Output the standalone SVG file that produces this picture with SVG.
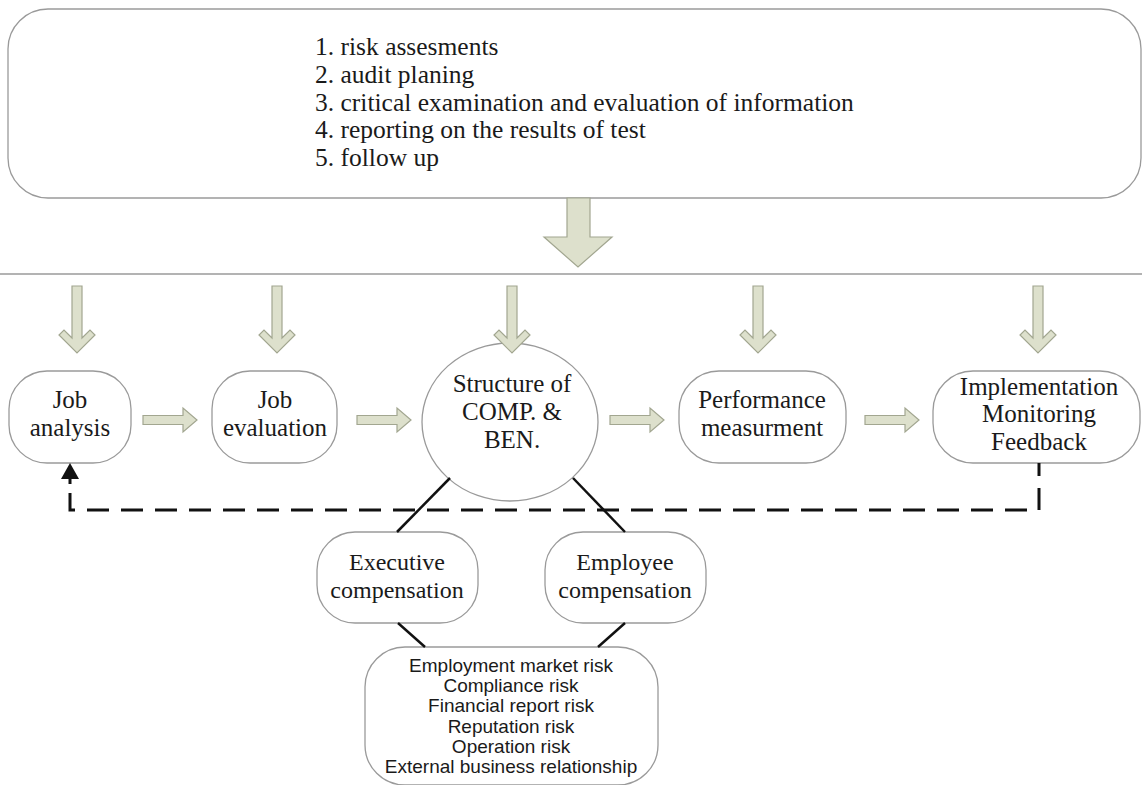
<svg xmlns="http://www.w3.org/2000/svg" width="1142" height="785" viewBox="0 0 1142 785">
<defs>
<style>
.box{fill:#fff;stroke:#9a9a9a;stroke-width:1.3}
.ga{fill:#dde0cc;stroke:#a2a690;stroke-width:1.2}
.t{font-family:"Liberation Serif","Times New Roman",serif;font-size:25px;fill:#1a1a1a;text-anchor:middle}
.tc{font-size:24px}
.tl{font-family:"Liberation Serif","Times New Roman",serif;font-size:25.5px;fill:#1a1a1a}
.s{font-family:"Liberation Sans",Arial,sans-serif;font-size:19px;fill:#1a1a1a;text-anchor:middle}
.ln{stroke:#111;stroke-width:2.5;fill:none}
.dash{stroke:#111;stroke-width:3;fill:none;stroke-dasharray:22 12}
</style>
<path id="dn" d="M-5,0 H5 V52 L13,44 L18,49 L0,67 L-18,49 L-13,44 L-5,52 z"/>
<path id="rt" d="M0,-4.5 H40 V-12 L54,0 L40,12 V4.5 H0 z"/>
</defs>
<rect width="1142" height="785" fill="#fff"/>

<g id="steps">
<rect class="box" x="8" y="9" width="1133" height="189" rx="40" ry="40"/>
<text class="tl" x="315" y="55">1. risk assesments</text>
<text class="tl" x="315" y="83">2. audit planing</text>
<text class="tl" x="315" y="111">3. critical examination and evaluation of information</text>
<text class="tl" x="315" y="138">4. reporting on the results of test</text>
<text class="tl" x="315" y="166">5. follow up</text>
</g>

<g id="divider">
<line x1="0" y1="274" x2="1142" y2="274" stroke="#9a9a9a" stroke-width="1.3"/>
</g>

<g id="job-analysis">
<rect class="box" x="9" y="371" width="122" height="92" rx="38" ry="38"/>
<text class="t" x="70" y="408">Job</text>
<text class="t" x="70" y="436">analysis</text>
</g>
<g id="job-evaluation">
<rect class="box" x="212" y="371" width="125" height="92" rx="38" ry="38"/>
<text class="t" x="275" y="408">Job</text>
<text class="t" x="275" y="436">evaluation</text>
</g>
<g id="structure">
<ellipse class="box" cx="510" cy="422" rx="88" ry="79"/>
<text class="t" x="512" y="392">Structure of</text>
<text class="t" x="512" y="420">COMP. &amp;</text>
<text class="t" x="512" y="448">BEN.</text>
</g>
<g id="performance">
<rect class="box" x="679" y="371" width="167" height="92" rx="40" ry="40"/>
<text class="t" x="762" y="408">Performance</text>
<text class="t" x="762" y="436">measurment</text>
</g>
<g id="implementation">
<rect class="box" x="933" y="371" width="207" height="92" rx="40" ry="40"/>
<text class="t" x="1039" y="395">Implementation</text>
<text class="t" x="1039" y="422">Monitoring</text>
<text class="t" x="1039" y="450">Feedback</text>
</g>
<g id="executive">
<rect class="box" x="317" y="532" width="161" height="91" rx="38" ry="38"/>
<text class="t tc" x="397" y="570">Executive</text>
<text class="t tc" x="397" y="598">compensation</text>
</g>
<g id="employee">
<rect class="box" x="545" y="532" width="161" height="91" rx="38" ry="38"/>
<text class="t tc" x="625" y="570">Employee</text>
<text class="t tc" x="625" y="598">compensation</text>
</g>
<g id="risks">
<rect class="box" x="365" y="647" width="293" height="138" rx="40" ry="40"/>
<text class="s" x="511" y="672">Employment market risk</text>
<text class="s" x="511" y="692">Compliance risk</text>
<text class="s" x="511" y="712">Financial report risk</text>
<text class="s" x="511" y="733">Reputation risk</text>
<text class="s" x="511" y="753">Operation risk</text>
<text class="s" x="511" y="773">External business relationship</text>
</g>

<g id="connectors">
<path class="ga" d="M567,198 H590 V237 H612 L578,267 L544,237 H567 z"/>
<use href="#dn" class="ga" x="77" y="286"/>
<use href="#dn" class="ga" x="277" y="286"/>
<use href="#dn" class="ga" x="512" y="286"/>
<use href="#dn" class="ga" x="758" y="286"/>
<use href="#dn" class="ga" x="1038" y="286"/>
<use href="#rt" class="ga" x="143" y="420"/>
<use href="#rt" class="ga" x="357" y="420"/>
<use href="#rt" class="ga" x="610" y="420"/>
<use href="#rt" class="ga" x="865" y="420"/>
<line class="ln" x1="450" y1="478" x2="397" y2="532"/>
<line class="ln" x1="573" y1="478" x2="625" y2="532"/>
<line class="ln" x1="398" y1="623" x2="425" y2="647"/>
<line class="ln" x1="625" y1="623" x2="598" y2="647"/>
<path class="dash" d="M70,493 V510 H1039 V463"/>
<line x1="70" y1="476" x2="70" y2="484" stroke="#111" stroke-width="3"/>
<polygon points="70,463 61,479 79,479" fill="#111"/>
</g>
</svg>
